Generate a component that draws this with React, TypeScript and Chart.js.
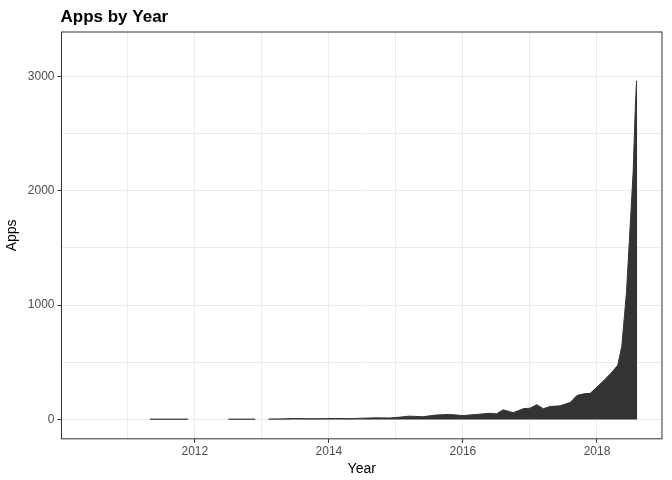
import React, { useRef, useEffect } from 'react';
import { Chart, registerables } from 'chart.js';

Chart.register(...registerables);

// decimal year -> app count (null = no data)
const years: number[] = [
  2011.33, 2011.5, 2011.7, 2011.9, 2011.91,
  2012.5, 2012.7, 2012.9, 2012.91,
  2013.1, 2013.3, 2013.5, 2013.7, 2013.9, 2014.1, 2014.3, 2014.5, 2014.7, 2014.9,
  2015.0, 2015.2, 2015.4, 2015.6, 2015.8, 2016.0, 2016.2, 2016.4, 2016.5, 2016.6,
  2016.75, 2016.9, 2017.0, 2017.1, 2017.2, 2017.3, 2017.45, 2017.6, 2017.7, 2017.8,
  2017.9, 2018.0, 2018.1, 2018.2, 2018.31, 2018.37, 2018.44, 2018.49, 2018.54,
  2018.57, 2018.59, 2018.6,
];
const apps: (number | null)[] = [
  4, 4, 4, 4, null,
  4, 4, 4, null,
  5, 6, 10, 7, 8, 10, 8, 12, 15, 14,
  18, 30, 25, 40, 45, 35, 45, 55, 50, 85,
  60, 95, 100, 130, 95, 115, 120, 150, 210, 225,
  230, 285, 340, 400, 475, 640, 1110, 1640, 2170,
  2700, 2960, 2960,
];
const xTicks: number[] = [2012, 2014, 2016, 2018];
const yTicks: number[] = [0, 1000, 2000, 3000];

const panelPlugin = {
  id: 'panel',
  afterDraw(chart: Chart) {
    const { ctx, chartArea: a } = chart;
    ctx.save();
    ctx.strokeStyle = '#333333';
    ctx.lineWidth = 1;
    ctx.strokeRect(a.left, a.top, a.right - a.left, a.bottom - a.top);
    ctx.fillStyle = '#000';
    ctx.font = 'bold 17px Arial, "Liberation Sans", sans-serif';
    ctx.textBaseline = 'alphabetic';
    ctx.fillText('Apps by Year', a.left - 1, 22);
    ctx.restore();
  },
};

const App: React.FC = () => {
  const ref = useRef<HTMLCanvasElement | null>(null);

  useEffect(() => {
    document.body.style.margin = '0';
    if (!ref.current) return;
    const chart = new Chart(ref.current, {
      type: 'line',
      data: {
        datasets: [{
          data: years.map((x, i) => ({ x, y: apps[i] as number })),
          borderColor: '#333333',
          backgroundColor: '#333333',
          borderWidth: 1,
          fill: 'origin',
          pointRadius: 0,
          tension: 0,
          spanGaps: false,
        }],
      },
      options: {
        animation: false,
        responsive: false,
        layout: { padding: { top: 32, right: 10, left: 4, bottom: 2 } },
        plugins: { legend: { display: false }, tooltip: { enabled: false } },
        scales: {
          x: {
            type: 'linear',
            min: 2010.01,
            max: 2018.97,
            border: { display: false },
            grid: {
              color: '#EBEBEB',
              tickColor: (c: any) => (xTicks.includes(c.tick?.value) ? '#333333' : 'transparent'),
              tickLength: 4,
            },
            afterBuildTicks: (axis: any) => {
              axis.ticks = [2011, 2012, 2013, 2014, 2015, 2016, 2017, 2018].map((v) => ({ value: v }));
            },
            ticks: {
              color: '#4D4D4D',
              font: { size: 12, family: 'Arial, "Liberation Sans", sans-serif' },
              maxRotation: 0,
              autoSkip: false,
              padding: 2,
              callback: (v: any) => (xTicks.includes(Number(v)) ? String(v) : ''),
            },
            title: {
              display: true,
              text: 'Year',
              color: '#000',
              font: { size: 14, family: 'Arial, "Liberation Sans", sans-serif' },
              padding: { top: 0, bottom: 0 },
            },
          },
          y: {
            min: -168,
            max: 3388,
            border: { display: false },
            grid: {
              color: '#EBEBEB',
              tickColor: (c: any) => (yTicks.includes(c.tick?.value) ? '#333333' : 'transparent'),
              tickLength: 4,
            },
            afterBuildTicks: (axis: any) => {
              axis.ticks = [0, 500, 1000, 1500, 2000, 2500, 3000].map((v) => ({ value: v }));
            },
            ticks: {
              color: '#4D4D4D',
              font: { size: 12, family: 'Arial, "Liberation Sans", sans-serif' },
              autoSkip: false,
              padding: 3,
              callback: (v: any) => (yTicks.includes(Number(v)) ? String(v) : ''),
            },
            title: {
              display: true,
              text: 'Apps',
              color: '#000',
              font: { size: 14, family: 'Arial, "Liberation Sans", sans-serif' },
              padding: { top: 0, bottom: 4 },
            },
          },
        },
      },
      plugins: [panelPlugin],
    });
    return () => chart.destroy();
  }, []);

  return <canvas ref={ref} width={672} height={480} />;
};

export default App;
